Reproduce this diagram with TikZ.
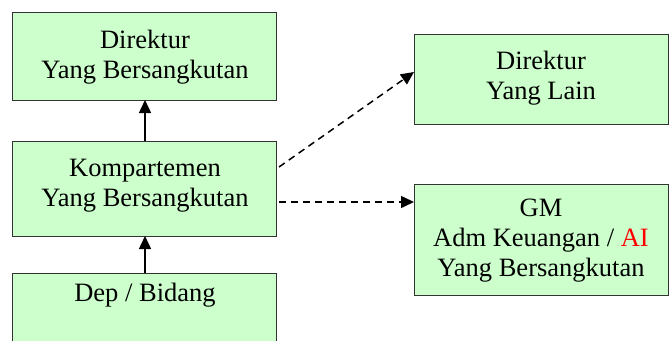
\documentclass[tikz,border=0pt]{standalone}
\usepackage{fontspec}
\setmainfont{Liberation Serif}
\usetikzlibrary{arrows.meta}
\definecolor{boxgreen}{HTML}{CCFFCC}
\definecolor{aired}{HTML}{FF0000}
\begin{document}
\begin{tikzpicture}[x=1pt,y=-1pt,
  orgbox/.style={draw=black!80,line width=1pt,fill=boxgreen},
  lbl/.style={align=center,font=\fontsize{26.5}{30}\selectfont,inner sep=0pt},
  solidarrow/.style={line width=1.5pt,-{Triangle[length=13pt,width=12pt]}},
  dasharrow/.style={line width=1.5pt,dash pattern=on 7pt off 5pt,-{Triangle[length=13pt,width=12pt]}}]
\useasboundingbox (0,0) rectangle (669,340);
\begin{scope}
\clip (0,0) rectangle (669,340);
\node[orgbox,minimum width=264pt,minimum height=88pt,anchor=north west,inner sep=0pt] (dir) at (12,12) {};
\node[orgbox,minimum width=264pt,minimum height=95pt,anchor=north west,inner sep=0pt] (komp) at (12,141) {};
\node[orgbox,minimum width=264pt,minimum height=90pt,anchor=north west,inner sep=0pt] (dep) at (12,273) {};
\node[orgbox,minimum width=254pt,minimum height=90pt,anchor=north west,inner sep=0pt] (lain) at (414,34) {};
\node[orgbox,minimum width=254pt,minimum height=111pt,anchor=north west,inner sep=0pt] (gm) at (414,184) {};
\end{scope}
\node[lbl] (tdir) at (145,57) {Direktur\\Yang Bersangkutan};
\node[lbl] (tkomp) at (145,186) {Kompartemen\\Yang Bersangkutan};
\node[lbl] (tdep) at (145,295) {Dep / Bidang};
\node[lbl] (tlain) at (541,78) {Direktur\\Yang Lain};
\node[lbl] (tgm) at (541,241) {GM\\Adm Keuangan / \textcolor{aired}{AI}\\Yang Bersangkutan};
\coordinate (a1s) at (145,141);
\coordinate (a1e) at (145,100);
\coordinate (a2s) at (145,273);
\coordinate (a2e) at (145,236);
\draw[solidarrow] (a1s) -- (a1e);
\draw[solidarrow] (a2s) -- (a2e);
\coordinate (d1s) at (279,167);
\coordinate (d1e) at (414,72);
\coordinate (d2s) at (279,202);
\coordinate (d2e) at (414,202);
\draw[dasharrow] (d1s) -- (d1e);
\draw[dasharrow] (d2s) -- (d2e);
\end{tikzpicture}
\end{document}
